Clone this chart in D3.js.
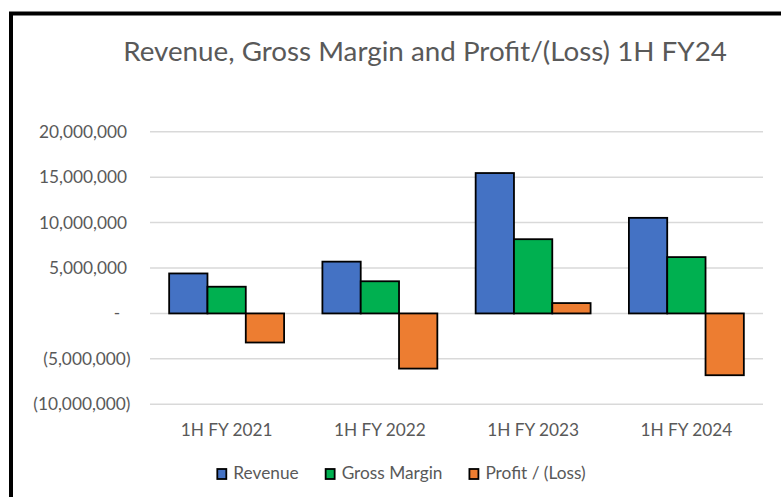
<!DOCTYPE html>
<html>
<head>
<meta charset="utf-8">
<script src="https://cdn.jsdelivr.net/npm/d3@7"></script>
<style>
  body { margin: 0; background: #fff; }
  text { font-family: Lato, 'Noto Sans', sans-serif; fill: #595959; }
</style>
</head>
<body>
<div id="chart"></div>
<script>
const periods = ['1H FY 2021', '1H FY 2022', '1H FY 2023', '1H FY 2024']
const seriesNames = ['Revenue', 'Gross Margin', 'Profit / (Loss)']
const revenue = [4400000, 5700000, 15450000, 10520000]
const grossMargin = [2940000, 3540000, 8170000, 6200000]
const profitLoss = [-3200000, -6070000, 1140000, -6800000]
const yTicks = [-10000000, -5000000, 0, 5000000, 10000000, 15000000, 20000000]
const colors = ['#4472C4', '#00B050', '#ED7D31']

const W = 781
const H = 497
const margin = { top: 131.7, right: 18, bottom: 92.7, left: 150 }

const svg = d3.select('#chart').append('svg')
  .attr('width', W)
  .attr('height', H)

// chart area frame (right/bottom sides fall outside the picture)
svg.append('rect')
  .attr('x', 11).attr('y', 13.5)
  .attr('width', 900).attr('height', 600)
  .attr('fill', 'none')
  .attr('stroke', '#000')
  .attr('stroke-width', 4)

const fitSize = (sel, target, base) => {
  const w = sel.node().getComputedTextLength()
  return base * target / w
}

// title
const title = svg.append('text')
  .attr('x', 425).attr('y', 61)
  .attr('text-anchor', 'middle')
  .attr('font-size', 26)
  .text('Revenue, Gross Margin and Profit/(Loss) 1H FY24')
title.attr('font-size', fitSize(title, 604, 26))

// measure axis label size against "20,000,000" width
const probe = svg.append('text').attr('font-size', 20).text('20,000,000')
const labelSize = fitSize(probe, 88, 20)
probe.remove()

const x0 = d3.scaleBand()
  .domain(periods)
  .range([margin.left, W - margin.right])
  .paddingInner(0.25)
  .paddingOuter(0.125)

const x1 = d3.scaleBand()
  .domain(seriesNames)
  .range([0, x0.bandwidth()])

const y = d3.scaleLinear()
  .domain([-10000000, 20000000])
  .range([H - margin.bottom, margin.top])

// gridlines
svg.append('g')
  .selectAll('line')
  .data(yTicks)
  .enter().append('line')
  .attr('x1', margin.left)
  .attr('x2', W - margin.right)
  .attr('y1', d => y(d))
  .attr('y2', d => y(d))
  .attr('stroke', '#D9D9D9')
  .attr('stroke-width', 1.5)

// y labels, accounting style
const fmt = d3.format(',')
svg.append('g')
  .selectAll('text')
  .data(yTicks)
  .enter().append('text')
  .attr('x', d => d < 0 ? 130.5 : (d === 0 ? 117 : 127))
  .attr('y', d => y(d))
  .attr('dy', '0.35em')
  .attr('text-anchor', d => d === 0 ? 'middle' : 'end')
  .attr('font-size', labelSize)
  .text(d => d === 0 ? '-' : (d < 0 ? `(${fmt(-d)})` : fmt(d)))

// bars
const rows = periods.map((p, i) => ({ period: p, values: [revenue[i], grossMargin[i], profitLoss[i]] }))

const groups = svg.append('g')
  .selectAll('g')
  .data(rows)
  .enter().append('g')
  .attr('transform', d => `translate(${x0(d.period)},0)`)

groups.selectAll('rect')
  .data(d => d.values.map((v, j) => ({ key: seriesNames[j], value: v, idx: j })))
  .enter().append('rect')
  .attr('x', d => x1(d.key))
  .attr('width', x1.bandwidth())
  .attr('y', d => y(Math.max(0, d.value)))
  .attr('height', d => Math.abs(y(d.value) - y(0)))
  .attr('fill', d => colors[d.idx])
  .attr('stroke', '#000')
  .attr('stroke-width', 1.8)

// x labels
svg.append('g')
  .selectAll('text')
  .data(periods)
  .enter().append('text')
  .attr('x', d => x0(d) + x0.bandwidth() / 2)
  .attr('y', 436)
  .attr('text-anchor', 'middle')
  .attr('font-size', labelSize)
  .text(d => d)

// legend
const legend = svg.append('g')
const items = legend.selectAll('g')
  .data(seriesNames)
  .enter().append('g')
items.append('rect')
  .attr('width', 9).attr('height', 10)
  .attr('y', -10)
  .attr('fill', (_, i) => colors[i])
  .attr('stroke', '#000')
  .attr('stroke-width', 1.8)
items.append('text')
  .attr('x', 16)
  .attr('font-size', labelSize)
  .text(d => d)

let offset = 0
const widths = []
items.each(function () {
  widths.push(16 + d3.select(this).select('text').node().getComputedTextLength())
})
const gap = 27
const total = d3.sum(widths) + gap * (widths.length - 1)
const startX = 401.5 - total / 2
items.attr('transform', (_, i) => {
  const t = `translate(${startX + offset},479)`
  offset += widths[i] + gap
  return t
})
</script>
</body>
</html>
